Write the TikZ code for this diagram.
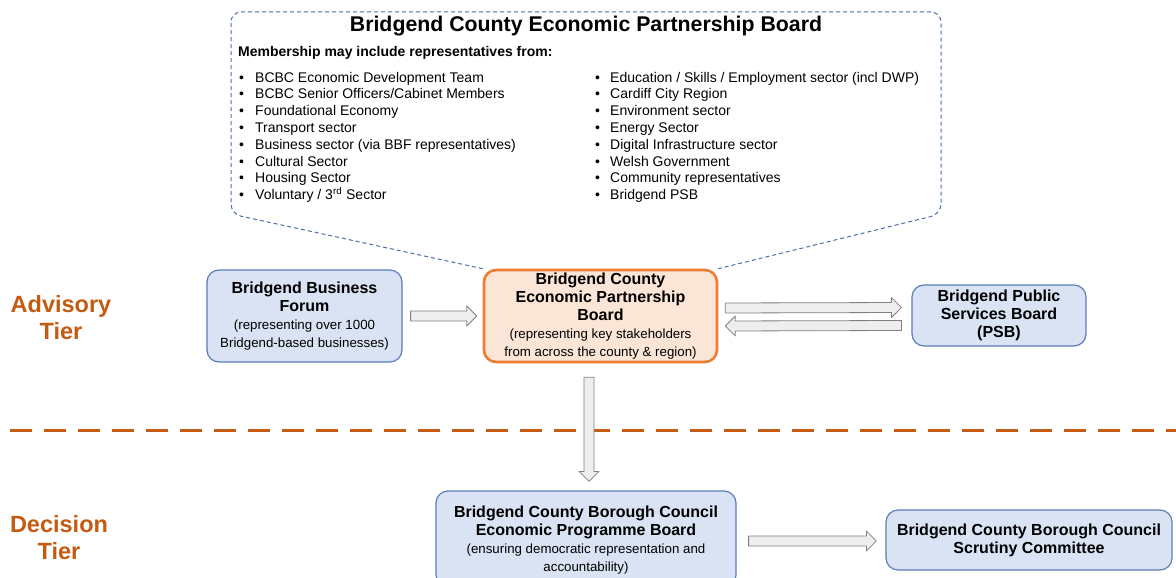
\documentclass[tikz,border=0pt]{standalone}
\usepackage{fontspec}
\setmainfont{Liberation Sans}
\usetikzlibrary{calc}
\definecolor{boxblue}{HTML}{DAE3F3}
\definecolor{boxborder}{HTML}{5B7DB8}
\definecolor{orangefill}{HTML}{FBE5D6}
\definecolor{orangeline}{HTML}{ED7D31}
\definecolor{tierorange}{HTML}{C55A11}
\definecolor{calloutblue}{HTML}{4A6FA5}
\definecolor{arrowfill}{HTML}{EEEEEE}
\definecolor{arrowline}{HTML}{808080}
\newcommand\hd[1]{{\fontsize{16}{18}\selectfont\bfseries #1}}
\newcommand\blockarrow[2]{%
  \coordinate (ah) at ($(#2)!10pt!(#1)$);
  \draw[barrow] ($(#1)!5pt!90:(#2)$) -- ($(ah)!5pt!90:(#2)$) -- ($(ah)!10pt!90:(#2)$) -- (#2)
    -- ($(ah)!10pt!-90:(#2)$) -- ($(ah)!5pt!-90:(#2)$) -- ($(#1)!5pt!-90:(#2)$) -- cycle;}
\begin{document}
\begin{tikzpicture}[x=1pt,y=-1pt,
  box/.style={align=center, inner sep=0pt, rounded corners=12pt,
    font=\fontsize{13.3}{18}\selectfont},
  bluebox/.style={box, draw=boxborder, line width=1.2pt, fill=boxblue},
  orangebox/.style={box, draw=orangeline, line width=2.6pt, fill=orangefill},
  barrow/.style={draw=arrowline, fill=arrowfill, line width=0.8pt, line join=round},
  item/.style={anchor=base west, inner sep=0pt, font=\fontsize{14}{16}\selectfont},
  tier/.style={align=center, text=tierorange, font=\fontsize{23.5}{27}\selectfont\bfseries},
  callout/.style={draw=calloutblue, line width=1pt, dash pattern=on 4pt off 3pt, rounded corners=10pt}]
\useasboundingbox (0,0) rectangle (1176,578);

% tier labels
\node[tier] (adv) at (61,318) {Advisory\\Tier};
\node[tier] (dec) at (59,538) {Decision\\Tier};

% tier divider
\coordinate (dl) at (10,430);
\coordinate (dr) at (1176,430);
\draw[tierorange, line width=3pt, dash pattern=on 22pt off 12pt] (dl) -- (dr);

% main nodes
\node[bluebox, minimum width=195pt, minimum height=92pt] (bbf) at (304.5,316)
  {\hd{Bridgend Business}\\\hd{Forum}\\(representing over 1000\\Bridgend-based businesses)};
\node[orangebox, minimum width=233pt, minimum height=92pt] (cep) at (600.5,316)
  {\hd{Bridgend County}\\\hd{Economic Partnership}\\\hd{Board}\\(representing key stakeholders\\from across the county \& region)};
\node[bluebox, minimum width=174pt, minimum height=61pt] (psb) at (999,315.5)
  {\hd{Bridgend Public}\\\hd{Services Board}\\\hd{(PSB)}};
\node[bluebox, minimum width=300pt, minimum height=96pt, text depth=0pt] (epb) at (586,539)
  {\hd{Bridgend County Borough Council}\\\hd{Economic Programme Board}\\(ensuring democratic representation and\\accountability)};
\node[bluebox, minimum width=286pt, minimum height=60pt] (scr) at (1029,540)
  {\hd{Bridgend County Borough Council}\\\hd{Scrutiny Committee}};

% callout
\draw[callout] (cep.north west) -- (231,214) -- (231,12) -- (941,12) -- (941,214) -- (cep.north east);
\node[anchor=base, inner sep=0pt, font=\fontsize{21.3}{26}\selectfont\bfseries] (ttl) at (586,32)
  {Bridgend County Economic Partnership Board};
\node[anchor=base west, inner sep=0pt, font=\fontsize{14}{16}\selectfont\bfseries] (mem) at (238,57)
  {Membership may include representatives from:};
\foreach \t [count=\i] in {BCBC Economic Development Team, BCBC Senior Officers/Cabinet Members,
  Foundational Economy, Transport sector, Business sector (via BBF representatives),
  Cultural Sector, Housing Sector, Voluntary / 3\textsuperscript{rd} Sector} {
  \node[item] (lb\i) at (239,82+16.8*\i-16.8) {\textbullet};
  \node[item] (l\i) at (255,82+16.8*\i-16.8) {\t};
}
\foreach \t [count=\i] in {Education / Skills / Employment sector (incl DWP), Cardiff City Region,
  Environment sector, Energy Sector, Digital Infrastructure sector, Welsh Government,
  Community representatives, Bridgend PSB} {
  \node[item] (rb\i) at (595,82+16.8*\i-16.8) {\textbullet};
  \node[item] (r\i) at (610,82+16.8*\i-16.8) {\t};
}

% block arrows
\coordinate (a1s) at ($(bbf.east)+(8,0)$);
\coordinate (a1e) at ($(cep.west)+(-6,0)$);
\blockarrow{a1s}{a1e}
\coordinate (a2s) at ($(cep.east)+(7,-8)$);
\coordinate (a2e) at ($(psb.west)+(-10,-8)$);
\blockarrow{a2s}{a2e}
\coordinate (a3s) at ($(psb.west)+(-10,10)$);
\coordinate (a3e) at ($(cep.east)+(7,10)$);
\blockarrow{a3s}{a3e}
\coordinate (a4s) at ($(cep.south)+(-11.5,14)$);
\coordinate (a4e) at ($(epb.north)+(3,-9)$);
\blockarrow{a4s}{a4e}
\coordinate (a5s) at ($(epb.east)+(12,2)$);
\coordinate (a5e) at ($(scr.west)+(-9,1)$);
\blockarrow{a5s}{a5e}
\end{tikzpicture}
\end{document}
